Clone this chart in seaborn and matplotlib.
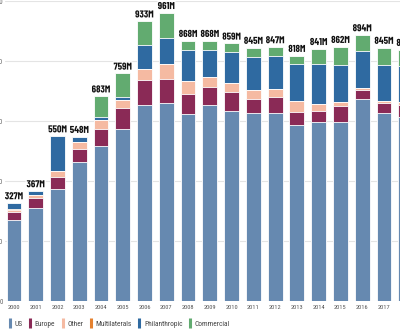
import numpy as np
import pandas as pd
import matplotlib
matplotlib.use("Agg")
import matplotlib.pyplot as plt
import matplotlib.patheffects as pe
from matplotlib.lines import Line2D
import seaborn as sns

years = [str(y) for y in range(2000, 2019)]
us = [270, 311, 373, 462, 518, 575, 655, 660, 622, 652, 635, 627, 627, 588, 596, 596, 672, 628, 615]
europe = [27, 31, 40, 44, 55, 70, 81, 79, 68, 63, 61, 48, 52, 43, 37, 54, 31, 31, 40]
other = [8, 11, 20, 23, 30, 24, 38, 52, 42, 32, 31, 28, 29, 37, 25, 14, 8, 7, 8]
multilaterals = [1, 0, 0, 0, 0, 0, 0, 0, 0, 0, 0, 2, 0, 0, 0, 0, 0, 0, 0]
philanthropic = [21, 14, 117, 19, 10, 12, 78, 85, 104, 90, 102, 110, 109, 121, 132, 122, 123, 121, 120]
commercial = [0, 0, 0, 0, 70, 78, 81, 85, 32, 31, 30, 30, 30, 29, 51, 62, 53, 58, 55]
total_labels = ["327M", "367M", "550M", "548M", "683M", "759M", "933M", "961M", "868M", "868M",
                "859M", "845M", "847M", "818M", "841M", "862M", "894M", "845M", "837M"]
series_names = ["US", "Europe", "Other", "Multilaterals", "Philanthropic", "Commercial"]
colors = ["#6689b0", "#8a2a56", "#f5baa2", "#e5812f", "#2f6aa1", "#62ab70"]
y_ticks = [0, 200, 400, 600, 800, 1000]

df = pd.DataFrame({"year": years, "US": us, "Europe": europe, "Other": other,
                   "Multilaterals": multilaterals, "Philanthropic": philanthropic,
                   "Commercial": commercial})

sns.set_theme(style="white")
plt.rcParams["font.family"] = ["Roboto Condensed", "DejaVu Sans"]

fig = plt.figure(figsize=(4.0, 3.33), dpi=100)
ax = fig.add_axes([5 / 400, 32 / 333, 415 / 400, 300 / 333])

cum = df[series_names].cumsum(axis=1)
for name, col in reversed(list(zip(series_names, colors))):
    sns.barplot(x=df["year"], y=cum[name], color=col, saturation=1, width=0.68,
                edgecolor="white", linewidth=0.6, ax=ax, zorder=3)

totals = cum["Commercial"].values
for i, (t, lab) in enumerate(zip(totals, total_labels)):
    ax.annotate(lab, (i, t), xytext=(0, 1.2), textcoords="offset points",
                ha="center", va="bottom", fontsize=7.2, fontweight="bold", color="#111111",
                family=["Barlow Condensed", "Roboto Condensed", "DejaVu Sans"],
                path_effects=[pe.withStroke(linewidth=2, foreground="white")], zorder=5)

ax.set_ylim(0, 1000)
ax.set_xlim(-9 / 21.76, -9 / 21.76 + 415 / 21.76)
ax.set_yticks(y_ticks)
ax.set_yticklabels([str(v) for v in y_ticks], fontsize=5, color="#666666")
ax.tick_params(axis="y", length=0, pad=1.5)
ax.tick_params(axis="x", length=0, pad=3, labelsize=4.6, labelcolor="#555555")
ax.set_xlabel("")
ax.set_ylabel("")
ax.grid(axis="y", color="#e4e4e4", linewidth=0.8, zorder=0)
ax.set_axisbelow(True)
for s in ax.spines.values():
    s.set_visible(False)

handles = [Line2D([0], [0], marker="|", linestyle="none", markersize=6.5,
                  markeredgewidth=2.2, color=c) for c in colors]
fig.legend(handles, series_names, loc="lower left", bbox_to_anchor=(0.006, -0.002),
           ncol=6, frameon=False, fontsize=5.3, handlelength=0.45, handletextpad=0.4,
           columnspacing=0.8, labelcolor="#444444", borderpad=0.3)

fig.savefig("out.png", dpi=100)
